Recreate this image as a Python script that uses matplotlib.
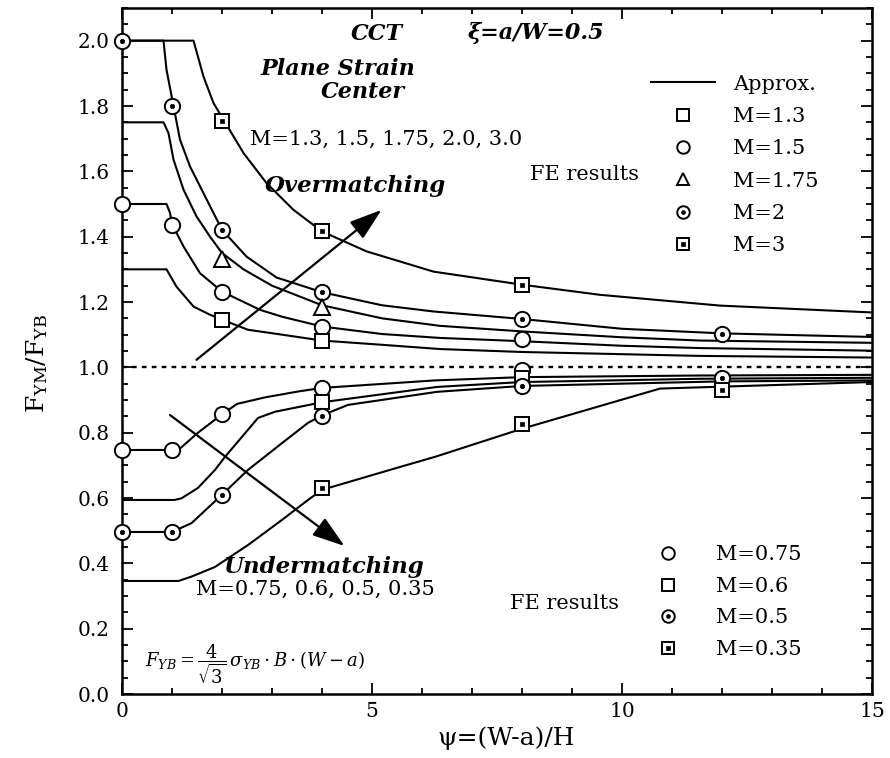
import matplotlib
matplotlib.use('Agg')
import matplotlib.pyplot as plt
from matplotlib.lines import Line2D
from matplotlib.legend_handler import HandlerTuple
from matplotlib.ticker import MultipleLocator

plt.rcParams['font.family'] = ['DejaVu Serif']
plt.rcParams['mathtext.fontset'] = 'dejavuserif'

# ---------------- Approximate curves ----------------
m3_x = [0, 1.43, 1.63, 1.83, 2.03, 2.43, 2.89, 3.43, 4.0, 4.89, 6.23, 8.0, 9.56, 11.96, 15.0]
m3_y = [2.0, 2.0, 1.89, 1.809, 1.758, 1.656, 1.564, 1.482, 1.416, 1.355, 1.293, 1.253, 1.222, 1.189, 1.168]

m2_x = [0, 0.83, 0.89, 1.03, 1.16, 1.36, 1.63, 2.0, 2.49, 3.09, 4.0, 5.2, 6.23, 8.0, 10.0, 12.0, 15.0]
m2_y = [2.0, 2.0, 1.911, 1.80, 1.697, 1.615, 1.533, 1.421, 1.339, 1.275, 1.23, 1.19, 1.171, 1.148, 1.118, 1.104, 1.093]

m175_x = [0, 0.83, 0.93, 1.03, 1.23, 1.49, 1.76, 2.0, 2.43, 3.0, 4.0, 5.2, 6.36, 8.0, 10.0, 11.56, 15.0]
m175_y = [1.75, 1.75, 1.717, 1.636, 1.544, 1.462, 1.40, 1.35, 1.30, 1.25, 1.19, 1.15, 1.127, 1.11, 1.092, 1.082, 1.075]

m15_x = [0, 0.89, 0.96, 1.0, 1.23, 1.56, 2.0, 2.76, 3.2, 4.0, 5.2, 6.36, 8.0, 10.0, 11.56, 15.0]
m15_y = [1.5, 1.5, 1.473, 1.439, 1.37, 1.288, 1.232, 1.176, 1.155, 1.125, 1.102, 1.09, 1.08, 1.066, 1.059, 1.051]

m13_x = [0, 0.89, 1.09, 1.43, 1.76, 2.0, 2.52, 3.2, 4.0, 5.2, 6.36, 8.0, 11.56, 15.0]
m13_y = [1.3, 1.3, 1.247, 1.186, 1.161, 1.146, 1.115, 1.10, 1.082, 1.069, 1.056, 1.047, 1.035, 1.03]

m075_x = [0, 1.0, 1.15, 1.52, 2.0, 2.3, 2.86, 3.52, 4.0, 6.26, 8.0, 11.56, 15.0]
m075_y = [0.747, 0.747, 0.75, 0.80, 0.856, 0.888, 0.908, 0.926, 0.937, 0.96, 0.97, 0.975, 0.977]

m06_x = [0, 1.05, 1.19, 1.52, 1.86, 2.06, 2.72, 3.06, 4.0, 6.3, 8.0, 11.56, 15.0]
m06_y = [0.594, 0.594, 0.599, 0.631, 0.686, 0.726, 0.845, 0.864, 0.893, 0.94, 0.955, 0.965, 0.968]

m05_x = [0, 1.0, 1.39, 2.0, 2.52, 3.2, 3.72, 4.0, 4.52, 6.3, 8.0, 12.0, 15.0]
m05_y = [0.496, 0.496, 0.523, 0.61, 0.686, 0.768, 0.83, 0.853, 0.885, 0.925, 0.943, 0.957, 0.96]

m035_x = [0, 1.13, 1.4, 1.86, 2.52, 3.2, 3.72, 4.0, 5.56, 6.26, 8.0, 10.76, 15.0]
m035_y = [0.346, 0.346, 0.36, 0.389, 0.456, 0.533, 0.594, 0.625, 0.695, 0.726, 0.812, 0.935, 0.955]

# ---------------- FE results (markers) ----------------
fe3_x, fe3_y = [2, 4, 8], [1.755, 1.416, 1.253]
fe2_x, fe2_y = [0, 1, 2, 4, 8, 12], [2.0, 1.80, 1.421, 1.23, 1.148, 1.102]
fe175_x, fe175_y = [2, 4], [1.332, 1.185]
fe15_x, fe15_y = [0, 1, 2, 4, 8], [1.5, 1.437, 1.232, 1.125, 1.087]
fe13_x, fe13_y = [2, 4], [1.146, 1.082]
fe075_x, fe075_y = [0, 1, 2, 4, 8], [0.747, 0.747, 0.856, 0.937, 0.992]
fe06_x, fe06_y = [4, 8], [0.893, 0.967]
fe05_x, fe05_y = [0, 1, 2, 4, 8, 12], [0.496, 0.496, 0.61, 0.851, 0.943, 0.967]
fe035_x, fe035_y = [4, 8, 12], [0.631, 0.827, 0.93]

ref_x, ref_y = [0, 15], [1.0, 1.0]

over_arrow_tail, over_arrow_tip = (1.49, 1.023), (5.19, 1.482)
under_arrow_tail, under_arrow_tip = (0.96, 0.854), (4.45, 0.453)

x_ticks = [0, 5, 10, 15]
y_ticks = [0.0, 0.2, 0.4, 0.6, 0.8, 1.0, 1.2, 1.4, 1.6, 1.8, 2.0]
y_ticklabels = ['0.0', '0.2', '0.4', '0.6', '0.8', '1.0', '1.2', '1.4', '1.6', '1.8', '2.0']

# ---------------- Figure ----------------
fig = plt.figure(figsize=(8.9, 7.58), dpi=100)
ax = fig.add_axes([122 / 890, 64 / 758, 750 / 890, 686 / 758])

LW = 1.5
for xs, ys in [(m3_x, m3_y), (m2_x, m2_y), (m175_x, m175_y), (m15_x, m15_y), (m13_x, m13_y),
               (m075_x, m075_y), (m06_x, m06_y), (m05_x, m05_y), (m035_x, m035_y)]:
    ax.plot(xs, ys, color='black', lw=LW, solid_joinstyle='round', zorder=2)

ax.plot(ref_x, ref_y, color='black', lw=1.7, linestyle=(0, (2.0, 2.2)), zorder=2)

MEW = 1.4
def circ(xs, ys, ms=11):
    ax.plot(xs, ys, ls='none', marker='o', ms=ms, mfc='white', mec='black', mew=MEW, zorder=4, clip_on=False)

def dotcirc(xs, ys, ms=11):
    circ(xs, ys, ms)
    ax.plot(xs, ys, ls='none', marker='o', ms=3.2, mfc='black', mec='black', mew=0.5, zorder=5, clip_on=False)

def sq(xs, ys, ms=10):
    ax.plot(xs, ys, ls='none', marker='s', ms=ms, mfc='white', mec='black', mew=MEW, zorder=4, clip_on=False)

def dotsq(xs, ys, ms=10):
    sq(xs, ys, ms)
    ax.plot(xs, ys, ls='none', marker='s', ms=3.2, mfc='black', mec='black', mew=0.5, zorder=5, clip_on=False)

def tri(xs, ys, ms=11):
    ax.plot(xs, ys, ls='none', marker='^', ms=ms, mfc='white', mec='black', mew=MEW, zorder=4, clip_on=False)

dotsq(fe3_x, fe3_y)
dotcirc(fe2_x, fe2_y)
tri(fe175_x, fe175_y)
circ(fe15_x, fe15_y)
sq(fe13_x, fe13_y)
circ(fe075_x, fe075_y)
sq(fe06_x, fe06_y)
dotcirc(fe05_x, fe05_y)
dotsq(fe035_x, fe035_y)

# arrows
for tail, tip in [(over_arrow_tail, over_arrow_tip), (under_arrow_tail, under_arrow_tip)]:
    ax.annotate('', xy=tip, xytext=tail,
                arrowprops=dict(arrowstyle='-|>,head_length=1.0,head_width=0.33',
                                mutation_scale=20, lw=1.6, color='black',
                                shrinkA=0, shrinkB=0), zorder=3)

# axes / ticks
ax.set_xlim(0, 15)
ax.set_ylim(0, 2.1)
ax.set_xticks(x_ticks)
ax.set_xticklabels([str(v) for v in x_ticks])
ax.set_yticks(y_ticks)
ax.set_yticklabels(y_ticklabels)
ax.xaxis.set_minor_locator(MultipleLocator(1))
ax.yaxis.set_minor_locator(MultipleLocator(0.05))
ax.tick_params(which='both', direction='in', top=True, right=True, width=1.3)
ax.tick_params(which='major', length=8)
ax.tick_params(which='minor', length=4.5)
ax.tick_params(axis='y', which='major', pad=9, labelsize=14.5)
ax.tick_params(axis='x', which='major', pad=6, labelsize=14.5)
for s in ax.spines.values():
    s.set_linewidth(1.8)

ax.set_xlabel('ψ=(W-a)/H', fontsize=18)
ax.xaxis.set_label_coords(0.512, -0.048)
ax.set_ylabel(r'$\mathrm{F_{YM}/F_{YB}}$', fontsize=18)
ax.yaxis.set_label_coords(-0.096, 0.4825)

# annotations
bi = dict(fontweight='bold', fontstyle='italic', va='baseline')
ax.text(5.1, 2.003, 'CCT', ha='center', fontsize=16, **bi)
ax.text(6.92, 2.005, 'ξ=a/W=0.5', ha='left', fontsize=16, **bi)
ax.text(4.32, 1.896, 'Plane Strain', ha='center', fontsize=16, **bi)
ax.text(4.82, 1.825, 'Center', ha='center', fontsize=16, **bi)
ax.text(2.86, 1.537, 'Overmatching', ha='left', fontsize=16.5, **bi)
ax.text(2.02, 0.371, 'Undermatching', ha='left', fontsize=16.5, **bi)

ax.text(2.56, 1.681, 'M=1.3, 1.5, 1.75, 2.0, 3.0', ha='left', va='baseline', fontsize=15)
ax.text(1.49, 0.303, 'M=0.75, 0.6, 0.5, 0.35', ha='left', va='baseline', fontsize=15)
ax.text(8.16, 1.574, 'FE results', ha='left', va='baseline', fontsize=15)
ax.text(7.76, 0.26, 'FE results', ha='left', va='baseline', fontsize=15)

ax.text(0.46, 0.0837, r'$F_{YB}=\dfrac{4}{\sqrt{3}}\,\sigma_{YB}\cdot B\cdot(W-a)$',
        ha='left', va='baseline', fontsize=13)

# legends
def h_line():
    return Line2D([], [], color='black', lw=LW)

def h_mark(marker, ms):
    return Line2D([], [], ls='none', marker=marker, ms=ms, mfc='white', mec='black', mew=MEW)

def h_dot(marker):
    return Line2D([], [], ls='none', marker=marker, ms=2.8, mfc='black', mec='black', mew=0.5)

LFS = 15
up_handles = [h_line(), h_mark('s', 8), h_mark('o', 9), h_mark('^', 9),
              (h_mark('o', 9), h_dot('o')), (h_mark('s', 8), h_dot('s'))]
up_labels = ['Approx.', 'M=1.3', 'M=1.5', 'M=1.75', 'M=2', 'M=3']
leg1 = ax.legend(up_handles, up_labels, loc='upper left', bbox_to_anchor=(0.705, 0.903),
                 frameon=False, fontsize=LFS, handlelength=3.1, handletextpad=0.85,
                 labelspacing=0.64, borderpad=0, borderaxespad=0, numpoints=1,
                 handler_map={tuple: HandlerTuple(ndivide=1)})
ax.add_artist(leg1)

lo_handles = [h_mark('o', 9), h_mark('s', 8), (h_mark('o', 9), h_dot('o')), (h_mark('s', 8), h_dot('s'))]
lo_labels = ['M=0.75', 'M=0.6', 'M=0.5', 'M=0.35']
ax.legend(lo_handles, lo_labels, loc='upper left', bbox_to_anchor=(0.7067, 0.2165),
          frameon=False, fontsize=LFS, handlelength=1.5, handletextpad=1.55,
          labelspacing=0.6, borderpad=0, borderaxespad=0, numpoints=1,
          handler_map={tuple: HandlerTuple(ndivide=1)})

fig.savefig('out.png', dpi=100)
